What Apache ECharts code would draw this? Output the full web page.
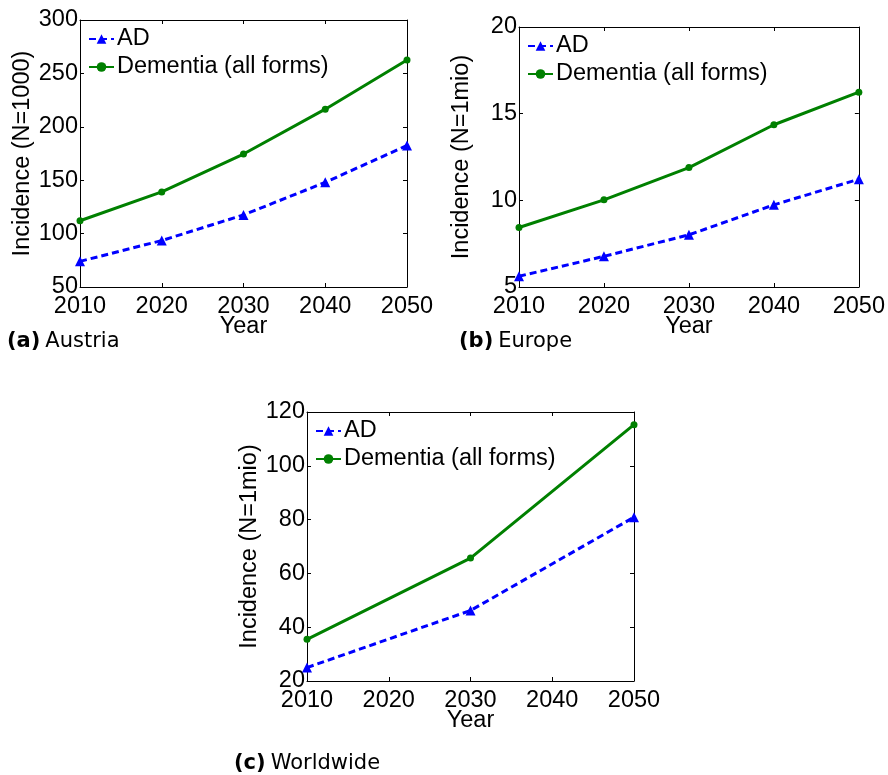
<!DOCTYPE html>
<html>
<head>
<meta charset="utf-8">
<script src="https://cdn.jsdelivr.net/npm/echarts@6/dist/echarts.min.js"></script>
<style>
html,body{margin:0;padding:0;background:#fff;}
#main{width:888px;height:775px;}
</style>
</head>
<body>
<div id="main"></div>
<script>
// ---- data ----
const yearsAT = [2010, 2020, 2030, 2040, 2050];
const adAT = [74, 93.5, 117.5, 148, 182.5];
const demAT = [112, 139, 174.5, 216.5, 262.5];

const yearsEU = [2010, 2020, 2030, 2040, 2050];
const adEU = [5.62, 6.77, 8.01, 9.74, 11.22];
const demEU = [8.43, 10.03, 11.89, 14.36, 16.24];

const yearsWW = [2010, 2030, 2050];
const adWW = [25, 46.2, 80.9];
const demWW = [35.5, 65.7, 115.3];

const xTicks = [2010, 2020, 2030, 2040, 2050];
const seriesNames = ['AD', 'Dementia (all forms)'];
const captions = [['(a)', 'Austria'], ['(b)', 'Europe'], ['(c)', 'Worldwide']];
const yNames = ['Incidence (N=1000)', 'Incidence (N=1mio)', 'Incidence (N=1mio)'];
const yRanges = [[50, 300, 50], [5, 20, 5], [20, 120, 20]];

// ---- layout ----
const FONT = 'Liberation Sans, Arial, Helvetica, sans-serif';
const CAPFONT = 'DejaVu Sans, sans-serif';
const grids = [
  {left: 80, top: 20, width: 327, height: 267},
  {left: 519, top: 27, width: 340, height: 260},
  {left: 307, top: 412, width: 327, height: 269}
];
const legendPos = [
  {left: 88, top: 27},
  {left: 527, top: 34},
  {left: 315, top: 419}
];
const captionPos = [
  {left: 7, top: 331},
  {left: 459, top: 331},
  {left: 234, top: 753}
];

const pairs = (xs, ys) => xs.map((x, i) => [x, ys[i]]);
const dataSets = [
  [pairs(yearsAT, adAT), pairs(yearsAT, demAT)],
  [pairs(yearsEU, adEU), pairs(yearsEU, demEU)],
  [pairs(yearsWW, adWW), pairs(yearsWW, demWW)]
];

const axisLine = {show: true, lineStyle: {color: '#000', width: 1}};
const tick = {show: true, inside: true, length: 4, lineStyle: {color: '#000', width: 1}};
const FS = 23.5;
const labelStyle = {color: '#000', fontSize: FS, fontFamily: FONT};

const xAxis = [], yAxis = [], series = [], legend = [], title = [];
grids.forEach((g, i) => {
  const [ymin, ymax, yint] = yRanges[i];
  xAxis.push({
    type: 'value', gridIndex: i, position: 'bottom', min: xTicks[0], max: xTicks[xTicks.length - 1], interval: 10,
    axisLine, axisTick: tick, splitLine: {show: false},
    axisLabel: Object.assign({margin: 8, showMinLabel: true, showMaxLabel: true, hideOverlap: false,
      formatter: v => String(v)}, labelStyle),
    name: 'Year', nameLocation: 'middle', nameGap: 28, nameMoveOverlap: false,
    nameTextStyle: {color: '#000', fontSize: FS, fontFamily: FONT}
  });
  xAxis.push({
    type: 'value', gridIndex: i, position: 'top', min: xTicks[0], max: xTicks[xTicks.length - 1], interval: 10,
    axisLine, axisTick: tick, splitLine: {show: false}, axisLabel: {show: false}
  });
  yAxis.push({
    type: 'value', gridIndex: i, position: 'left', min: ymin, max: ymax, interval: yint,
    axisLine, axisTick: tick, splitLine: {show: false},
    axisLabel: Object.assign({margin: 2, showMinLabel: true, showMaxLabel: true, hideOverlap: false,
      formatter: v => String(v)}, labelStyle),
    name: yNames[i], nameLocation: 'middle', nameGap: 45, nameMoveOverlap: false,
    nameTextStyle: {color: '#000', fontSize: FS, fontFamily: FONT}
  });
  yAxis.push({
    type: 'value', gridIndex: i, position: 'right', min: ymin, max: ymax, interval: yint,
    axisLine, axisTick: tick, splitLine: {show: false}, axisLabel: {show: false}
  });
  series.push({
    name: seriesNames[0], type: 'line', xAxisIndex: 2 * i, yAxisIndex: 2 * i,
    data: dataSets[i][0], symbol: 'triangle', symbolSize: 10, showSymbol: true,
    lineStyle: {color: '#0000ff', width: 3, type: [7, 4]},
    itemStyle: {color: '#0000ff'}, z: 3, animation: false
  });
  series.push({
    name: seriesNames[1], type: 'line', xAxisIndex: 2 * i, yAxisIndex: 2 * i,
    data: dataSets[i][1], symbol: 'circle', symbolSize: 7, showSymbol: true,
    lineStyle: {color: '#008000', width: 3, type: 'solid'},
    itemStyle: {color: '#008000'}, z: 3, animation: false
  });
  legend.push({
    data: seriesNames, orient: 'vertical', left: legendPos[i].left, top: legendPos[i].top,
    itemWidth: 25, itemHeight: 12, itemGap: 4, padding: 0,
    textStyle: {color: '#000', fontSize: FS, fontFamily: FONT, lineHeight: 24, padding: [0, 0, 0, -2]},
    selectedMode: false
  });
  title.push({
    text: '{b|' + captions[i][0] + '} {n|' + captions[i][1] + '}',
    left: captionPos[i].left, top: captionPos[i].top, padding: 0,
    textStyle: {
      rich: {
        b: {fontWeight: 'bold', fontSize: 21, color: '#000', fontFamily: CAPFONT},
        n: {fontWeight: 'normal', fontSize: 21, color: '#000', fontFamily: CAPFONT}
      }
    }
  });
});

const chart = echarts.init(document.getElementById('main'), null, {renderer: 'canvas'});
chart.setOption({
  backgroundColor: '#fff',
  animation: false,
  grid: grids.map(g => Object.assign({containLabel: false}, g)),
  xAxis, yAxis, series, legend, title
});
</script>
</body>
</html>
